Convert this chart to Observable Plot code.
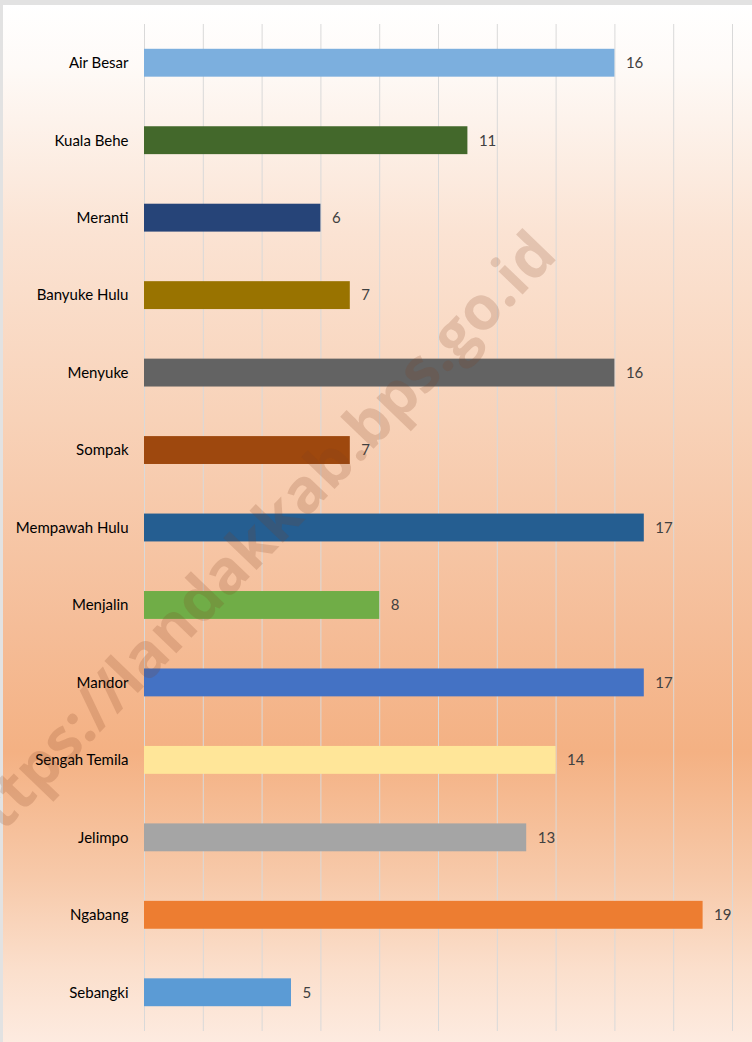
<!DOCTYPE html>
<html>
<head>
<meta charset="utf-8">
<script src="https://cdn.jsdelivr.net/npm/d3@7"></script>
<script src="https://cdn.jsdelivr.net/npm/@observablehq/plot@0.6"></script>
<style>
  html, body { margin: 0; padding: 0; background: #ffffff; }
  #wrap { position: relative; width: 752px; height: 1042px; overflow: hidden; background: #e2e2e2; }
  #chart { position: absolute; left: 3px; top: 5px; }
  #wm {
    position: absolute; left: 250px; top: 543px;
    transform: translate(-50%, -50%) rotate(-46deg);
    font-family: "Open Sans", "DejaVu Sans", sans-serif; font-weight: 700; font-size: 61px;
    color: rgba(125, 62, 32, 0.19); white-space: nowrap; pointer-events: none;
  }
</style>
</head>
<body>
<div id="wrap">
  <div id="chart"></div>
  <div id="wm">https://landakkab.bps.go.id</div>
</div>
<script>
const categories = ["Air Besar", "Kuala Behe", "Meranti", "Banyuke Hulu", "Menyuke", "Sompak",
  "Mempawah Hulu", "Menjalin", "Mandor", "Sengah Temila", "Jelimpo", "Ngabang", "Sebangki"];
const values = [16, 11, 6, 7, 16, 7, 17, 8, 17, 14, 13, 19, 5];
const xTicks = [0, 2, 4, 6, 8, 10, 12, 14, 16, 18, 20];
const barColors = ["#7cafde", "#43682b", "#264478", "#997300", "#636363", "#9e480e",
  "#255e91", "#70ad47", "#4472c4", "#ffe699", "#a5a5a5", "#ed7d31", "#5b9bd5"];

const data = categories.map((name, i) => ({name, value: values[i]}));

const chart = Plot.plot({
  width: 749,
  height: 1037,
  marginLeft: 141,
  marginRight: 20,
  marginTop: 19,
  marginBottom: 11,
  style: {
    background: "linear-gradient(to bottom, #ffffff 0%, #fefaf7 6%, #fbe3d3 22%, #f8d2b8 40%, #f5bd98 60%, #f4b183 72%, #f7c9a9 84%, #fbdfcc 93%, #fdebe0 100%)",
    fontFamily: "Lato, 'Open Sans', sans-serif",
    fontSize: "15px",
    overflow: "visible"
  },
  x: {domain: [0, 20], axis: null},
  y: {domain: categories, paddingInner: 0.64, paddingOuter: 0.32, round: false, axis: null},
  color: {domain: categories, range: barColors},
  marks: [
    Plot.gridX(xTicks, {stroke: "#d9d9d9", strokeOpacity: 1, strokeWidth: 1}),
    Plot.barX(data, {x: "value", y: "name", fill: "name"}),
    Plot.text(data, {x: "value", y: "name", text: d => String(d.value), dx: 11, textAnchor: "start", fill: "#404040"}),
    Plot.axisY({tickSize: 0, tickPadding: 16, label: null, fill: "#000000", fontWeight: 400})
  ]
});
document.getElementById("chart").appendChild(chart);
</script>
</body>
</html>
